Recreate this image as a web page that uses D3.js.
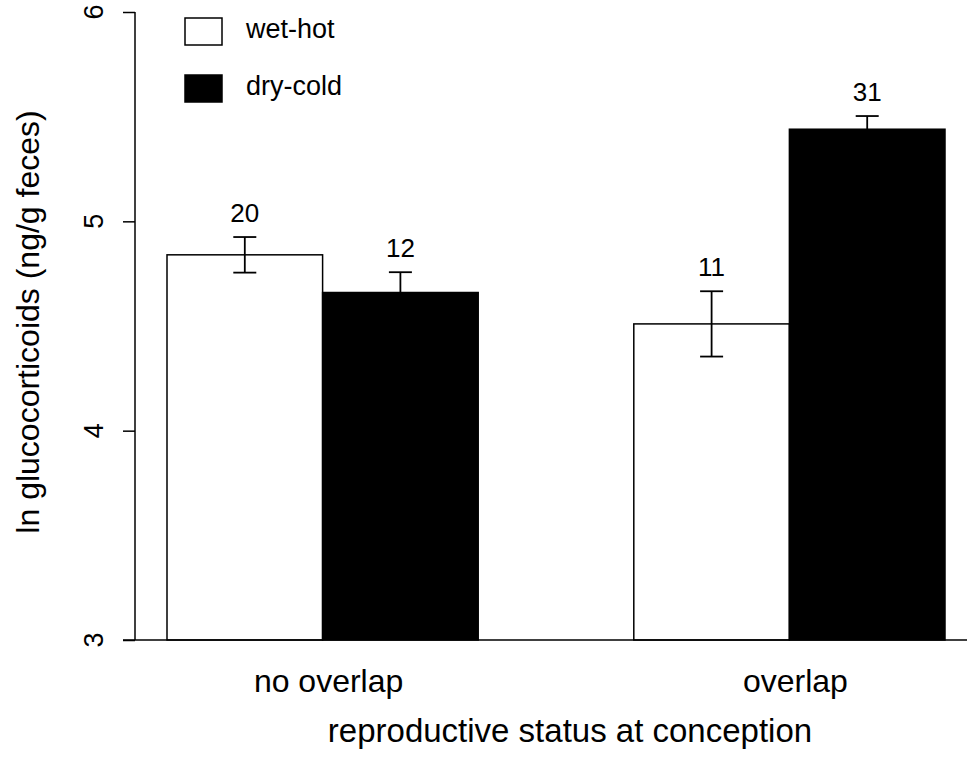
<!DOCTYPE html>
<html>
<head>
<meta charset="utf-8">
<script src="https://cdn.jsdelivr.net/npm/d3@7"></script>
<style>
  body { margin: 0; background: #fff; }
  text { font-family: "Liberation Sans", Arial, sans-serif; fill: #000; }
</style>
</head>
<body>
<svg id="chart" width="967" height="759"></svg>
<script>
// values
var categories = ["no overlap", "overlap"];
var seasons = ["wet-hot", "dry-cold"];
var wetHot = [4.84, 4.51];
var dryCold = [4.66, 5.44];
var wetHotSE = [0.085, 0.156];
var dryColdSE = [0.097, 0.063];
var wetHotN = [20, 11];
var dryColdN = [12, 31];
var yTicks = [3, 4, 5, 6];

var seasonFill = { "wet-hot": "#fff", "dry-cold": "#000" };

var rows = [];
categories.forEach(function(cat, i) {
    rows.push({ cat: cat, season: "wet-hot", value: wetHot[i], se: wetHotSE[i], n: wetHotN[i] });
    rows.push({ cat: cat, season: "dry-cold", value: dryCold[i], se: dryColdSE[i], n: dryColdN[i] });
});

var svg = d3.select("#chart");

var y = d3.scaleLinear().domain([3, 6]).range([640, 12]);

var x = d3.scaleBand()
    .domain(categories)
    .range([167, 945])
    .paddingInner(1 / 3)
    .paddingOuter(0);

var xs = d3.scaleBand()
    .domain(seasons)
    .range([0, x.bandwidth()]);

// bars
var bars = svg.append("g").attr("class", "bars");

bars.selectAll("rect")
    .data(rows)
    .enter().append("rect")
    .attr("x", function(d) { return x(d.cat) + xs(d.season); })
    .attr("y", function(d) { return y(d.value); })
    .attr("width", xs.bandwidth())
    .attr("height", function(d) { return y(3) - y(d.value); })
    .attr("fill", function(d) { return seasonFill[d.season]; })
    .attr("stroke", "#000")
    .attr("stroke-width", 1.5);

// error bars
var capHalf = 11.5;
var err = svg.append("g").attr("class", "errors")
    .attr("stroke", "#000")
    .attr("stroke-width", 1.8);

rows.forEach(function(d) {
    var cx = x(d.cat) + xs(d.season) + xs.bandwidth() / 2;
    var hi = y(d.value + d.se);
    var lo = y(d.value - d.se);
    err.append("line").attr("x1", cx).attr("x2", cx).attr("y1", hi).attr("y2", lo);
    err.append("line").attr("x1", cx - capHalf).attr("x2", cx + capHalf).attr("y1", hi).attr("y2", hi);
    err.append("line").attr("x1", cx - capHalf).attr("x2", cx + capHalf).attr("y1", lo).attr("y2", lo);
});

// sample sizes
svg.append("g").selectAll("text")
    .data(rows)
    .enter().append("text")
    .attr("x", function(d) { return x(d.cat) + xs(d.season) + xs.bandwidth() / 2; })
    .attr("y", function(d) { return y(d.value + d.se) - 15; })
    .attr("text-anchor", "middle")
    .style("font-size", "26px")
    .text(function(d) { return d.n; });

// y axis, labels turned on their side like the original
var yAxis = svg.append("g")
    .attr("transform", "translate(135,0)")
    .call(d3.axisLeft(y).tickValues(yTicks).tickSize(12).tickFormat(""));

yAxis.select(".domain").attr("stroke-width", 1.5).attr("d", "M0,12V640");
yAxis.selectAll(".tick line").attr("stroke-width", 1.5);

svg.append("g").selectAll("text")
    .data(yTicks)
    .enter().append("text")
    .attr("transform", function(d) { return "translate(103," + y(d) + ") rotate(-90)"; })
    .attr("text-anchor", "middle")
    .style("font-size", "27px")
    .text(function(d) { return d; });

// x axis baseline
svg.append("line")
    .attr("x1", 123).attr("x2", 967)
    .attr("y1", y(3)).attr("y2", y(3))
    .attr("stroke", "#000")
    .attr("stroke-width", 1.5);

svg.append("g").selectAll("text")
    .data(categories)
    .enter().append("text")
    .attr("x", function(d) { return x(d) + x.bandwidth() / 2 + 6; })
    .attr("y", 692)
    .attr("text-anchor", "middle")
    .style("font-size", "32px")
    .text(function(d) { return d; });

// axis titles
svg.append("text")
    .attr("x", 570)
    .attr("y", 742)
    .attr("text-anchor", "middle")
    .style("font-size", "33px")
    .text("reproductive status at conception");

svg.append("text")
    .attr("transform", "translate(39,322) rotate(-90)")
    .attr("text-anchor", "middle")
    .style("font-size", "32px")
    .text("ln glucocorticoids (ng/g feces)");

// legend
var legend = svg.append("g").attr("class", "legend");
seasons.forEach(function(s, i) {
    var ly = 18 + i * 57;
    legend.append("rect")
        .attr("x", 185).attr("y", ly)
        .attr("width", 37).attr("height", 27)
        .attr("fill", seasonFill[s])
        .attr("stroke", "#000")
        .attr("stroke-width", 1.5);
    legend.append("text")
        .attr("x", 246).attr("y", ly + 20)
        .style("font-size", "27px")
        .text(s);
});
</script>
</body>
</html>
